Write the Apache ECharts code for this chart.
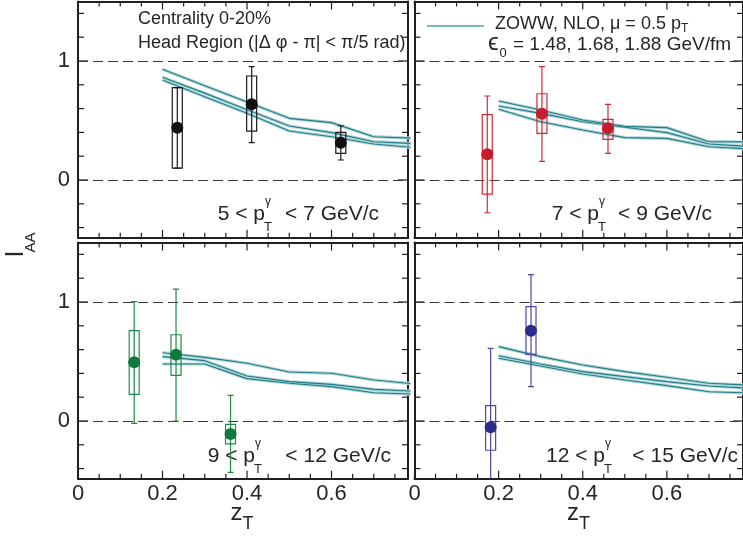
<!DOCTYPE html>
<html><head><meta charset="utf-8">
<script src="https://cdn.jsdelivr.net/npm/echarts@6/dist/echarts.min.js"></script>
<style>html,body{margin:0;padding:0;background:#fff}#c{width:743px;height:538px}</style>
</head><body><div id="c"></div><script>
// ---------------- data ----------------
const zT_tickLabels = ['0', '0.2', '0.4', '0.6'];
const xMajor = [0, 0.2, 0.4, 0.6];
const xMinor = [0.05, 0.1, 0.15, 0.25, 0.3, 0.35, 0.45, 0.5, 0.55, 0.65, 0.7, 0.75];
const IAA_tickLabels = ['0', '1'];
const yMajor = [0, 1];
const yMinor = [-0.4, -0.2, 0.2, 0.4, 0.6, 0.8, 1.2, 1.4];

const ptLabels = ['5 < p|< 7 GeV/c', '7 < p|< 9 GeV/c', '9 < p|< 12 GeV/c', '12 < p|< 15 GeV/c'];

// theory (ZOWW NLO), eps0 = 1.48, 1.68, 1.88 GeV/fm
const theory_zT = [0.2, 0.3, 0.4, 0.5, 0.6, 0.7, 0.8];
const p1_th148 = [0.930, 0.792, 0.655, 0.518, 0.482, 0.364, 0.350];
const p1_th168 = [0.863, 0.730, 0.590, 0.454, 0.398, 0.322, 0.305];
const p1_th188 = [0.840, 0.700, 0.560, 0.412, 0.364, 0.303, 0.270];
const p2_th148 = [0.664, 0.588, 0.504, 0.451, 0.440, 0.322, 0.320];
const p2_th168 = [0.622, 0.560, 0.490, 0.443, 0.398, 0.303, 0.280];
const p2_th188 = [0.594, 0.490, 0.420, 0.356, 0.350, 0.280, 0.260];
const p3_th148 = [0.574, 0.535, 0.485, 0.412, 0.401, 0.345, 0.310];
const p3_th168 = [0.541, 0.507, 0.378, 0.331, 0.308, 0.266, 0.250];
const p3_th188 = [0.479, 0.479, 0.356, 0.317, 0.289, 0.238, 0.225];
const p4_th148 = [0.625, 0.541, 0.471, 0.415, 0.367, 0.317, 0.300];
const p4_th168 = [0.549, 0.479, 0.415, 0.373, 0.331, 0.294, 0.275];
const p4_th188 = [0.527, 0.462, 0.395, 0.345, 0.297, 0.246, 0.235];

// measured points: zT, IAA, stat low/high, sys low/high
const p1_zT = [0.235, 0.411, 0.622];
const p1_IAA = [0.440, 0.636, 0.314];
const p1_statLow = [0.100, 0.314, 0.168];
const p1_statHigh = [0.776, 0.952, 0.456];
const p1_sysLow = [0.100, 0.410, 0.224];
const p1_sysHigh = [0.776, 0.874, 0.400];

const p2_zT = [0.173, 0.303, 0.460];
const p2_IAA = [0.216, 0.557, 0.434];
const p2_statLow = [-0.275, 0.157, 0.224];
const p2_statHigh = [0.706, 0.952, 0.636];
const p2_sysLow = [-0.118, 0.392, 0.342];
const p2_sysHigh = [0.549, 0.725, 0.510];

const p3_zT = [0.133, 0.232, 0.361];
const p3_IAA = [0.493, 0.557, -0.109];
const p3_statLow = [-0.020, 0.000, -0.431];
const p3_statHigh = [1.003, 1.109, 0.216];
const p3_sysLow = [0.224, 0.384, -0.193];
const p3_sysHigh = [0.759, 0.725, -0.028];

const p4_zT = [0.181, 0.277];
const p4_IAA = [-0.053, 0.759];
const p4_statLow = [-0.600, 0.289];
const p4_statHigh = [0.611, 1.230];
const p4_sysLow = [-0.246, 0.560];
const p4_sysHigh = [0.129, 0.961];

// ---------------- style / layout ----------------
const FONT = '"Liberation Sans", Arial, Helvetica, sans-serif';
const INK = '#231f20';
const TXT = '#262626';
const XMAX = 0.781, YMIN = -0.485, YMAX = 1.5;
const gridBoxes = [
  {left: 78, top: 1.5}, {left: 414.5, top: 1.5},
  {left: 78, top: 242.5}, {left: 414.5, top: 242.5}
];
const barColors = ['#1a1a1a', '#cc2a36', '#1f8a48', '#4a4aa6'];
const dotColors = ['#111111', '#c41e2e', '#0e7a3c', '#2a2c8a'];

const panels = [
  {zT: p1_zT, v: p1_IAA, sl: p1_statLow, sh: p1_statHigh, yl: p1_sysLow, yh: p1_sysHigh, th: [p1_th148, p1_th168, p1_th188]},
  {zT: p2_zT, v: p2_IAA, sl: p2_statLow, sh: p2_statHigh, yl: p2_sysLow, yh: p2_sysHigh, th: [p2_th148, p2_th168, p2_th188]},
  {zT: p3_zT, v: p3_IAA, sl: p3_statLow, sh: p3_statHigh, yl: p3_sysLow, yh: p3_sysHigh, th: [p3_th148, p3_th168, p3_th188]},
  {zT: p4_zT, v: p4_IAA, sl: p4_statLow, sh: p4_statHigh, yl: p4_sysLow, yh: p4_sysHigh, th: [p4_th148, p4_th168, p4_th188]}
];

function frameAxis(kind, gi, pos, vals, labels) {
  return {
    type: 'value', gridIndex: gi, position: pos,
    min: kind === 'x' ? 0 : YMIN, max: kind === 'x' ? XMAX : YMAX,
    axisLine: {show: true, onZero: false, lineStyle: {color: INK, width: 2}},
    splitLine: {show: false},
    axisTick: {show: false},
    axisLabel: labels ? {
      show: true, customValues: vals,
      formatter: (v) => { const i = vals.indexOf(v); return i >= 0 ? labels[i] : String(v); },
      fontSize: 22, color: TXT, fontFamily: FONT, margin: kind === 'x' ? 4 : 8
    } : {show: false}
  };
}

const grids = [], xAxes = [], yAxes = [], series = [];
gridBoxes.forEach((g, gi) => {
  grids.push({left: g.left, top: g.top, width: 330, height: (YMAX - YMIN) * 119, show: false});
  xAxes.push(frameAxis('x', gi, 'bottom', xMajor, gi >= 2 ? zT_tickLabels : null));
  xAxes.push(frameAxis('x', gi, 'top', xMajor, null));
  yAxes.push(frameAxis('y', gi, 'left', yMajor, gi % 2 === 0 ? IAA_tickLabels : null));
  yAxes.push(frameAxis('y', gi, 'right', yMajor, null));
});

// tick marks (inside, on all four sides) placed through the axis scales
const tickItems = []
  .concat(xMajor.map((v) => [v, 0]), xMinor.map((v) => [v, 1]),
          yMajor.map((v) => [v, 2]), yMinor.map((v) => [v, 3]));
const TICK_LEN = [8, 5, 10, 6];

panels.forEach((p, gi) => {
  const xi = gi * 2, yi = gi * 2;
  series.push({
    type: 'custom', xAxisIndex: xi, yAxisIndex: yi, clip: false, z: 2, silent: true,
    data: tickItems, encode: {x: -1, y: -1},
    renderItem: (params, api) => {
      const v = api.value(0), k = api.value(1), len = TICK_LEN[k];
      const cs = params.coordSys;
      const st = {stroke: INK, lineWidth: 1.2};
      if (k < 2) {
        const px = api.coord([v, YMIN])[0];
        return {type: 'group', children: [
          {type: 'line', shape: {x1: px, y1: cs.y + cs.height, x2: px, y2: cs.y + cs.height - len}, style: st},
          {type: 'line', shape: {x1: px, y1: cs.y, x2: px, y2: cs.y + len}, style: st}
        ]};
      }
      const py = api.coord([0, v])[1];
      return {type: 'group', children: [
        {type: 'line', shape: {x1: cs.x, y1: py, x2: cs.x + len, y2: py}, style: st},
        {type: 'line', shape: {x1: cs.x + cs.width, y1: py, x2: cs.x + cs.width - len, y2: py}, style: st}
      ]};
    }
  });
  p.th.forEach((arr) => {
    const d = theory_zT.map((x, i) => [x, arr[i]]);
    series.push({type: 'line', xAxisIndex: xi, yAxisIndex: yi, data: d, showSymbol: false, symbol: 'none',
      clip: true, silent: true, z: 3, lineStyle: {color: '#b3d6da', width: 3.2}});
    series.push({type: 'line', xAxisIndex: xi, yAxisIndex: yi, data: d, showSymbol: false, symbol: 'none',
      clip: true, silent: true, z: 4, lineStyle: {color: '#1f7d86', width: 1.1}});
  });
  const col = barColors[gi];
  series.push({
    type: 'custom', xAxisIndex: xi, yAxisIndex: yi, clip: true, z: 5, silent: true,
    data: p.zT.map((x, i) => [x, p.v[i], p.sl[i], p.sh[i], p.yl[i], p.yh[i]]),
    encode: {x: 0, y: 1},
    renderItem: (params, api) => {
      const x = api.value(0);
      const a = api.coord([x, api.value(2)]), b = api.coord([x, api.value(3)]);
      const c = api.coord([x, api.value(4)]), d = api.coord([x, api.value(5)]);
      const st = {stroke: col, lineWidth: 1.2, fill: null};
      return {type: 'group', children: [
        {type: 'line', shape: {x1: a[0], y1: a[1], x2: b[0], y2: b[1]}, style: st},
        {type: 'line', shape: {x1: a[0] - 3, y1: a[1], x2: a[0] + 3, y2: a[1]}, style: st},
        {type: 'line', shape: {x1: b[0] - 3, y1: b[1], x2: b[0] + 3, y2: b[1]}, style: st},
        {type: 'rect', shape: {x: c[0] - 5, y: d[1], width: 10, height: c[1] - d[1]}, style: {stroke: col, lineWidth: 1.2, fill: 'rgba(0,0,0,0)'}}
      ]};
    }
  });
  series.push({
    type: 'scatter', xAxisIndex: xi, yAxisIndex: yi, z: 6, silent: true,
    data: p.zT.map((x, i) => [x, p.v[i]]), symbol: 'circle', symbolSize: 12,
    itemStyle: {color: dotColors[gi], opacity: 1},
    markLine: {silent: true, symbol: ['none', 'none'], label: {show: false}, animation: false,
      lineStyle: {color: '#3a3a3a', width: 1.2, type: [10, 5]},
      data: [{yAxis: 0}, {yAxis: 1}]}
  });
});

// ---------------- text ----------------
function txt(x, y, text, size, align, extra) {
  return Object.assign({type: 'text', x: x, y: y, silent: true,
    style: {text: text, fontSize: size, fontFamily: FONT, fill: TXT,
      align: align || 'left', verticalAlign: 'middle', textAlign: align || 'left', textVerticalAlign: 'middle'}}, extra || {});
}
const graphics = [];
graphics.push(txt(16, 254, 'I', 25, 'center', {rotation: Math.PI / 2}));
graphics.push(txt(30.5, 242.5, 'AA', 15, 'center', {rotation: Math.PI / 2}));
[0, 336.5].forEach((dx) => {
  graphics.push(txt(236.5 + dx, 513.6, 'z', 24, 'center'));
  graphics.push(txt(248 + dx, 523.7, 'T', 18, 'center'));
});
graphics.push(txt(138, 19.5, 'Centrality 0-20%', 18, 'left'));
graphics.push(txt(138, 43.5, 'Head Region (|Δ φ - π| < π/5 rad)', 18, 'left'));
graphics.push({type: 'line', silent: true, shape: {x1: 427, y1: 26, x2: 484, y2: 26}, style: {stroke: '#4f9ea5', lineWidth: 1.6}});
graphics.push(txt(495, 23.7, 'ZOWW, NLO, μ = 0.5 p', 18, 'left'));
graphics.push(txt(681, 28.5, 'T', 12, 'left'));
graphics.push(txt(488, 43.5, 'ϵ', 24, 'left'));
graphics.push(txt(499.5, 53.5, '0', 13, 'left'));
graphics.push(txt(513, 44.5, '= 1.48, 1.68, 1.88 GeV/fm', 19, 'left'));
const ptPos = [[265, 379, 222], [599, 712, 222], [255, 391, 464], [605, 738, 464]];
ptLabels.forEach((s, i) => {
  const parts = s.split('|');
  const [px, ex, base] = ptPos[i];
  graphics.push(txt(px, base - 7.4, parts[0], 21, 'right'));
  graphics.push(txt(px - 1, base + 10 - 4.5, 'T', 13, 'left'));
  graphics.push(txt(px, base - 16.5 - 4.2, 'γ', 12, 'left'));
  graphics.push(txt(ex, base - 7.4, parts[1], 21, 'right'));
});

const chart = echarts.init(document.getElementById('c'), null, {renderer: 'canvas'});
chart.setOption({
  animation: false,
  backgroundColor: '#ffffff',
  textStyle: {fontFamily: FONT},
  grid: grids, xAxis: xAxes, yAxis: yAxes, series: series,
  graphic: {elements: graphics}
});
</script></body></html>
